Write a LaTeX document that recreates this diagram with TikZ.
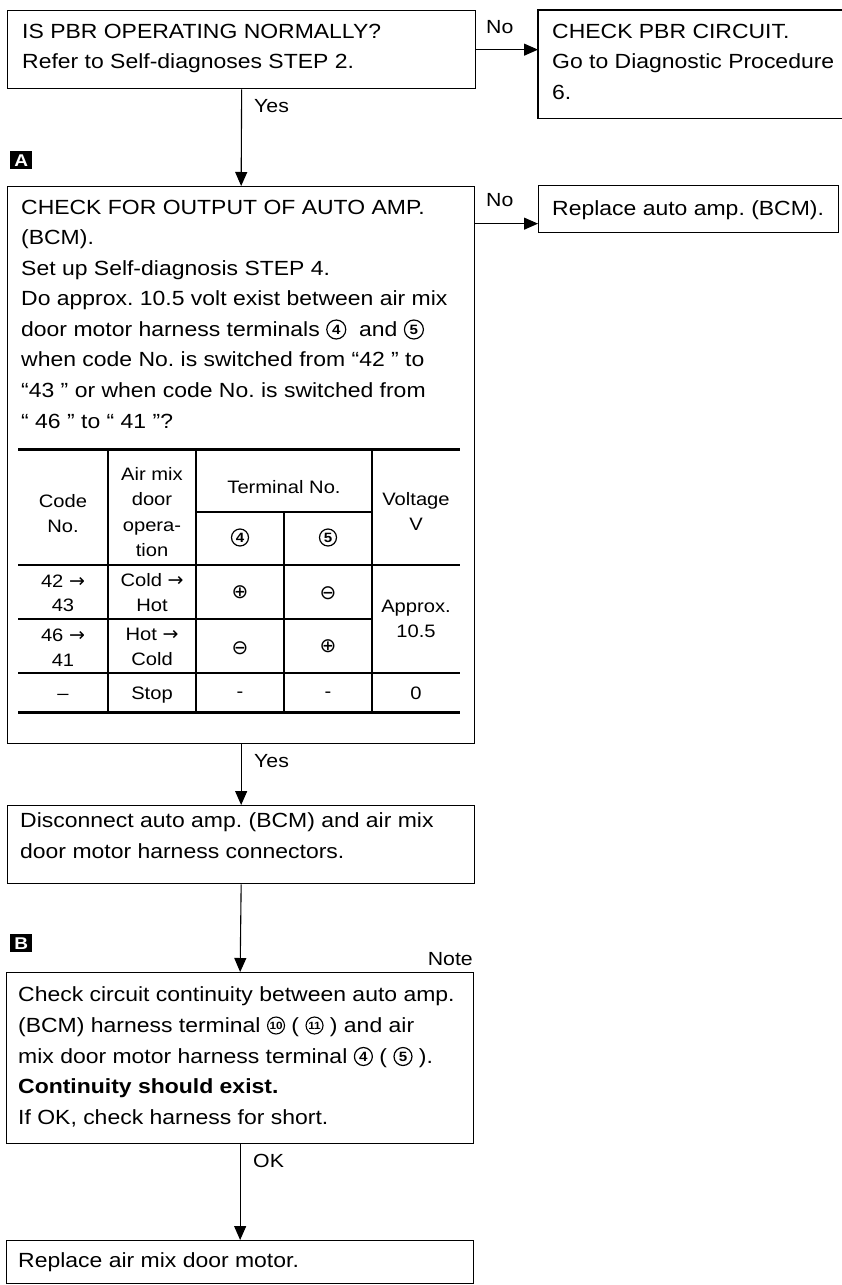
\documentclass[tikz,border=0pt]{standalone}
\usepackage{fontspec}
\setmainfont{Liberation Sans}[FakeStretch=1.12]
\newfontfamily\dvfont{DejaVu Sans}
\usetikzlibrary{arrows.meta}
\newcommand\circnum[2][19]{\tikz[baseline={([yshift=-6.5pt]cc.center)}]\node[circle,draw,line width=1.2pt,inner sep=0pt,minimum size=#1pt,anchor=center,font=\fontsize{13.5}{13.5}\selectfont\bfseries] (cc) {#2};}
\newcommand\circnumsm[1]{\tikz[baseline={([yshift=-6.5pt]cc.center)}]\node[circle,draw,line width=1.1pt,inner sep=0pt,minimum size=17pt,anchor=center,font=\fontsize{10.5}{10.5}\selectfont\bfseries] (cc) {#1};}
\newcommand\txtline[4]{\node[txt] (#1) at (#2,#3) {#4};}
\newcommand\rarr{{\dvfont\fontsize{19}{19}\selectfont →}}
\frenchspacing
\begin{document}
\begin{tikzpicture}[x=1pt,y=-1pt,
  box/.style={draw,line width=1.3pt,rectangle,inner sep=0pt,anchor=north west},
  openbox/.style={rectangle,inner sep=0pt,anchor=north west},
  txt/.style={font=\fontsize{20.5}{30}\selectfont,inner sep=0pt,anchor=base west},
  tt/.style={font=\fontsize{18}{24}\selectfont,inner sep=0pt,anchor=base},
  sym/.style={font=\dvfont\fontsize{20}{20}\selectfont,inner sep=0pt,anchor=center},
  lab/.style={font=\fontsize{19}{22}\selectfont,inner sep=0pt,anchor=base west},
  conn/.style={line width=1.1pt,-{Triangle[width=12pt,length=14pt]}},
  tag/.style={fill=black,text=white,font=\fontsize{17}{17}\selectfont\bfseries,minimum width=22pt,minimum height=18pt,inner sep=0pt,anchor=north west},
  thick rule/.style={line width=3pt},
  thin rule/.style={line width=1.1pt}]
\useasboundingbox (0,0) rectangle (842,1285);
\fill[white] (0,0) rectangle (842,1285);

% boxes
\node[box,minimum width=468pt,minimum height=78pt] (b1) at (7,10) {};
\node[openbox,minimum width=320pt,minimum height=108pt] (b2) at (538,10) {};
\draw[line width=1.3pt] (b2.north east) -- (b2.north west) -- (b2.south west) -- (b2.south east);
\node[box,minimum width=467pt,minimum height=557pt] (b3) at (7,186) {};
\node[box,minimum width=300pt,minimum height=47pt] (b4) at (538,185) {};
\node[box,minimum width=467pt,minimum height=78pt] (b5) at (7,805) {};
\node[box,minimum width=467pt,minimum height=171pt] (b6) at (6,972) {};
\node[box,minimum width=467pt,minimum height=43pt] (b7) at (6,1240) {};

% tags
\node[tag] (tA) at (10,151) {A};
\node[tag] (tB) at (10,934) {B};

% box texts
\txtline{t1a}{22}{38}{IS PBR OPERATING NORMALLY?}
\txtline{t1b}{22}{68}{Refer to Self-diagnoses STEP 2.}
\txtline{t2a}{552}{38}{CHECK PBR CIRCUIT.}
\txtline{t2b}{552}{68}{Go to Diagnostic Procedure}
\txtline{t2c}{552}{99}{6.}
\txtline{t3a}{21}{214}{CHECK FOR OUTPUT OF AUTO AMP.}
\txtline{t3b}{21}{244.5}{(BCM).}
\txtline{t3c}{21}{275}{Set up Self-diagnosis STEP 4.}
\txtline{t3d}{21}{305.5}{Do approx. 10.5 volt exist between air mix}
\txtline{t3e}{21}{336}{door motor harness terminals \circnum{4}\ \ and \circnum{5}}
\txtline{t3f}{21}{366.5}{when code No. is switched from “42 ” to}
\txtline{t3g}{21}{397}{“43 ” or when code No. is switched from}
\txtline{t3h}{21}{428}{“ 46 ” to “ 41 ”?}
\txtline{t4a}{552}{215}{Replace auto amp. (BCM).}
\txtline{t5a}{20}{827}{Disconnect auto amp. (BCM) and air mix}
\txtline{t5b}{20}{858}{door motor harness connectors.}
\txtline{t6a}{18}{1001}{Check circuit continuity between auto amp.}
\txtline{t6b}{18}{1032}{(BCM) harness terminal \circnumsm{10} ( \circnumsm{11} ) and air}
\txtline{t6c}{18}{1063}{mix door motor harness terminal \circnum[18]{4} ( \circnum[18]{5} ).}
\txtline{t6d}{18}{1093}{\bfseries Continuity should exist.}
\txtline{t6e}{18}{1124}{If OK, check harness for short.}
\txtline{t7a}{18}{1267}{Replace air mix door motor.}

% table rules
\draw[thick rule] (18,449) -- (460,449);
\draw[thick rule] (18,712) -- (460,712);
\draw[thin rule] (196,512) -- (372,512);
\draw[thin rule] (18,565) -- (460,565);
\draw[thin rule] (18,619) -- (372,619);
\draw[thin rule] (18,673) -- (460,673);
\draw[thin rule] (108,449) -- (108,712);
\draw[thin rule] (196,449) -- (196,712);
\draw[thin rule] (372,449) -- (372,712);
\draw[thin rule] (284,512) -- (284,712);

% table text
\node[tt] (h1a) at (63,507) {Code};
\node[tt] (h1b) at (63,532) {No.};
\node[tt] (h2a) at (152,480) {Air mix};
\node[tt] (h2b) at (152,505) {door};
\node[tt] (h2c) at (152,531) {opera-};
\node[tt] (h2d) at (152,556) {tion};
\node[tt] (h3) at (284,493) {Terminal No.};
\node[tt] (h3a) at (240,544) {\circnum[17]{4}};
\node[tt] (h3b) at (328,544) {\circnum[17]{5}};
\node[tt] (h4a) at (416,505) {Voltage};
\node[tt] (h4b) at (416,530) {V};
\node[tt] (r1a) at (63,587) {42 \rarr};
\node[tt] (r1b) at (63,611) {43};
\node[tt] (r1c) at (152,586) {Cold \rarr};
\node[tt] (r1d) at (152,611) {Hot};
\node[sym] (r1e) at (240,592) {⊕};
\node[sym] (r1f) at (328,593) {⊖};
\node[tt] (r2a) at (63,641) {46 \rarr};
\node[tt] (r2b) at (63,666) {41};
\node[tt] (r2c) at (152,640) {Hot \rarr};
\node[tt] (r2d) at (152,665) {Cold};
\node[sym] (r2e) at (240,648) {⊖};
\node[sym] (r2f) at (328,646) {⊕};
\node[tt] (r12g) at (416,612) {Approx.};
\node[tt] (r12h) at (416,637) {10.5};
\node[tt] (r3a) at (63,699) {--};
\node[tt] (r3c) at (152,699) {Stop};
\node[tt] (r3e) at (240,697) {-};
\node[tt] (r3f) at (328,697) {-};
\node[tt] (r3g) at (416,699) {0};

% connectors
\draw[conn] (b1.east) -- (b1.east -| b2.west);
\draw[conn] (b1.south) -- (b3.north);
\path ([yshift=-14.5pt]b4.west) coordinate (n2t);
\draw[conn] (n2t -| b3.east) -- (n2t);
\draw[conn] (b3.south) -- (b5.north);
\draw[conn] (b5.south) -- (b6.north);
\draw[conn] (b6.south) -- (b7.north);

% connector labels
\node[lab] (lno1) at (486,33) {No};
\node[lab] (lyes1) at (254,112) {Yes};
\node[lab] (lno2) at (486,206) {No};
\node[lab] (lyes2) at (254,767) {Yes};
\node[lab,anchor=base east] (lnote) at (473,965) {Note};
\node[lab] (lok) at (253,1167) {OK};
\end{tikzpicture}
\end{document}
